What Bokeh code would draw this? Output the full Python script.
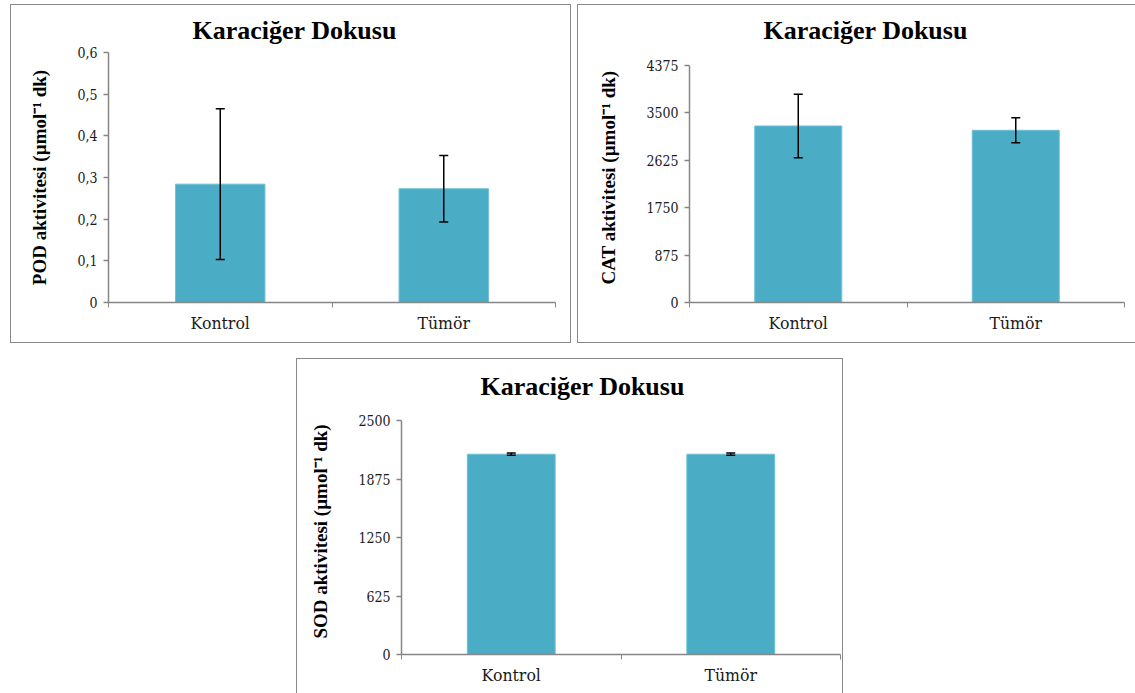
from bokeh.plotting import figure
from bokeh.models import (ColumnDataSource, Range1d, FixedTicker, Whisker, TeeHead,
                          CustomJSTickFormatter, Spacer)
from bokeh.layouts import row, column
from bokeh.embed import file_html
from bokeh.resources import INLINE

# ---------------- data ----------------
categories = ["Kontrol", "Tümör"]
title_text = "Karaciğer Dokusu"

pod_mean = [0.284, 0.273]
pod_err = [0.181, 0.080]
pod_ticks = [0, 0.1, 0.2, 0.3, 0.4, 0.5, 0.6]
pod_label = "POD aktivitesi (µmol⁻¹ dk)"

cat_mean = [3260, 3180]
cat_err = [587, 230]
cat_ticks = [0, 875, 1750, 2625, 3500, 4375]
cat_label = "CAT aktivitesi (µmol⁻¹ dk)"

sod_mean = [2140, 2140]
sod_err = [12, 12]
sod_ticks = [0, 625, 1250, 1875, 2500]
sod_label = "SOD aktivitesi (µmol⁻¹ dk)"

BAR = "#4BACC6"
AXIS = "#868686"
FONT_BOLD = "Liberation Serif"
FONT_REG = '"DejaVu Serif Condensed", "DejaVu Serif"'


def make_panel(means, errs, ticks, ylabel, width, height, mb, title_offset,
               headroom=1.0, comma=False, styles=None):
    xs = [i + 0.5 for i in range(len(categories))]
    src = ColumnDataSource(dict(
        x=xs, top=means,
        upper=[m + e for m, e in zip(means, errs)],
        lower=[m - e for m, e in zip(means, errs)],
    ))
    ymax = ticks[-1] * headroom
    p = figure(width=width, height=height, output_backend="svg", toolbar_location=None,
               x_range=Range1d(0, len(categories)), y_range=Range1d(ticks[0], ymax),
               min_border_left=mb[0], min_border_right=mb[1],
               min_border_top=mb[2], min_border_bottom=mb[3])
    p.styles = styles or {"border": "1px solid #898989"}
    p.outline_line_color = None
    p.grid.visible = False
    p.background_fill_color = "white"
    p.border_fill_color = "white"

    p.vbar(x="x", top="top", bottom=0, width=0.4, source=src,
           fill_color=BAR, line_color="#6cc0d6", line_width=1)
    head_u = TeeHead(size=9, line_color="black", line_width=1.5)
    head_l = TeeHead(size=9, line_color="black", line_width=1.5)
    wh = Whisker(source=src, base="x", upper="upper", lower="lower",
                 line_color="black", line_width=1.5,
                 upper_head=head_u, lower_head=head_l, level="overlay")
    p.add_layout(wh)

    # title
    p.title.text = title_text
    p.title.text_font = FONT_BOLD
    p.title.text_font_size = "26px"
    p.title.text_font_style = "bold"
    p.title.text_color = "black"
    p.title.align = "left"
    p.title.offset = title_offset
    p.title.standoff = 16

    # x axis
    xa = p.xaxis[0]
    xa.ticker = FixedTicker(ticks=xs, minor_ticks=list(range(len(categories) + 1)))
    xa.major_label_overrides = dict(zip(xs, categories))
    xa.major_tick_line_color = None
    xa.major_tick_out = 0
    xa.major_tick_in = 0
    xa.minor_tick_line_color = AXIS
    xa.minor_tick_out = 5
    xa.minor_tick_in = 0
    xa.axis_line_color = AXIS
    xa.axis_line_width = 1.5
    xa.major_label_text_font = FONT_REG
    xa.major_label_text_font_size = "17.5px"
    xa.major_label_text_color = "#1a1a1a"
    xa.major_label_standoff = 5

    # y axis
    ya = p.yaxis[0]
    ya.ticker = FixedTicker(ticks=ticks, minor_ticks=[])
    ya.bounds = (ticks[0], ticks[-1])
    if comma:
        ya.formatter = CustomJSTickFormatter(
            code="return tick === 0 ? '0' : tick.toFixed(1).replace('.', ',');")
    ya.axis_line_color = AXIS
    ya.axis_line_width = 1.5
    ya.major_tick_line_color = AXIS
    ya.major_tick_line_width = 1.5
    ya.major_tick_out = 5
    ya.major_tick_in = 0
    ya.minor_tick_line_color = None
    ya.major_label_text_font = FONT_REG
    ya.major_label_text_font_size = "14px"
    ya.major_label_text_color = "#1a1a1a"
    ya.major_label_standoff = 6
    ya.axis_label = ylabel
    ya.axis_label_text_font = FONT_BOLD
    ya.axis_label_text_font_style = "bold"
    ya.axis_label_text_font_size = "19px"
    ya.axis_label_text_color = "black"
    ya.axis_label_standoff = 24
    return p


p1 = make_panel(pod_mean, pod_err, pod_ticks, pod_label, 561, 339,
                (97, 17, 47, 42), 84, comma=True)
p2 = make_panel(cat_mean, cat_err, cat_ticks, cat_label, 558, 339,
                (111, 12, 47, 42), 74, headroom=248 / 235,
                styles={"border": "1px solid #898989", "border-right": "none"})
p3 = make_panel(sod_mean, sod_err, sod_ticks, sod_label, 547, 335,
                (104, 4, 49, 40), 79, headroom=245 / 233,
                styles={"border": "1px solid #898989", "border-bottom": "none"})

layout = column(
    Spacer(height=4),
    row(Spacer(width=10), p1, Spacer(width=6), p2),
    Spacer(height=15),
    row(Spacer(width=296), p3),
)

open("out.html", "w").write(file_html(layout, INLINE))
